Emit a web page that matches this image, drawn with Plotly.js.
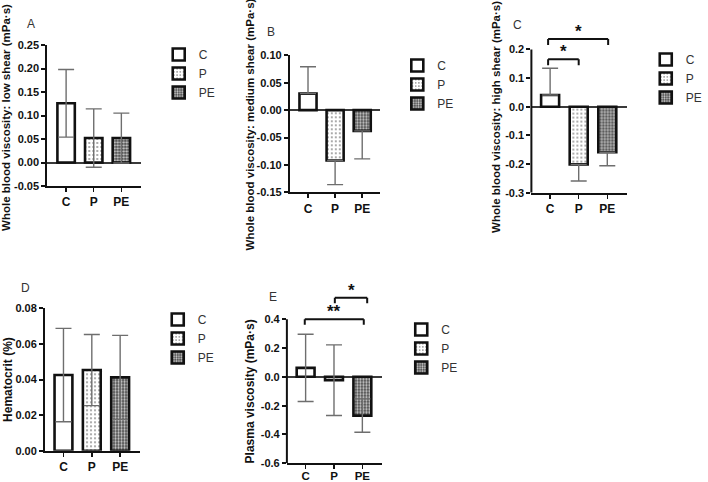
<!DOCTYPE html>
<html>
<head>
<meta charset="utf-8">
<script src="https://cdn.plot.ly/plotly-3.0.1.min.js"></script>
<style>
  html, body { margin: 0; padding: 0; background: #fff; width: 708px; height: 482px; overflow: hidden; }
  #chart { width: 708px; height: 482px; overflow: hidden; }
</style>
</head>
<body>
<div id="chart"></div>
<script>
// Groups
const categories = ['C', 'P', 'PE'];

// Whole blood viscosity, low shear (mPa·s): mean and SD
const lowShearMean = [0.126, 0.052, 0.052];
const lowShearSD   = [0.072, 0.062, 0.053];

// Whole blood viscosity, medium shear (mPa·s)
const medShearMean = [0.030, -0.092, -0.038];
const medShearSD   = [0.049, 0.044, 0.051];

// Whole blood viscosity, high shear (mPa·s)
const highShearMean = [0.041, -0.201, -0.159];
const highShearSD   = [0.093, 0.058, 0.047];

// Hematocrit (%)
const hctMean = [0.0425, 0.0453, 0.0412];
const hctSD   = [0.0262, 0.0200, 0.0236];

// Plasma viscosity (mPa·s)
const plasmaMean = [0.062, -0.023, -0.269];
const plasmaSD   = [0.233, 0.245, 0.116];

// Tick labels
const lowShearTicks  = ['0.25', '0.20', '0.15', '0.10', '0.05', '0.00', '-0.05'];
const medShearTicks  = ['0.10', '0.05', '0.00', '-0.05', '-0.10', '-0.15'];
const highShearTicks = ['0.2', '0.1', '0.0', '-0.1', '-0.2', '-0.3'];
const hctTicks       = ['0.08', '0.06', '0.04', '0.02', '0.00'];
const plasmaTicks    = ['0.4', '0.2', '0.0', '-0.2', '-0.4', '-0.6'];

// Significance brackets: [from, to] in category index, bracket height, label
const highShearSigFrom   = [-0.07, -0.07];
const highShearSigTo     = [1.0, 2.03];
const highShearSigLevel  = [0.166, 0.236];
const highShearSigLabel  = ['*', '*'];

const plasmaSigFrom  = [-0.03, 1.03];
const plasmaSigTo    = [2.05, 2.17];
const plasmaSigLevel = [0.40, 0.549];
const plasmaSigLabel = ['**', '*'];

const FONT = '"Liberation Sans", Arial, Helvetica, sans-serif';

// Fill style for each group
const groupStyle = {
  C:  { color: '#ffffff', pattern: { shape: '' } },
  P:  { color: '#ffffff', pattern: { shape: '.', fgcolor: '#8a8a8a', bgcolor: '#ffffff', size: 4, solidity: 0.18 } },
  PE: { color: '#5a5a5a', pattern: { shape: '.', fgcolor: '#d0d0d0', bgcolor: '#444444', size: 3, solidity: 0.45 } }
};

function errorArrays(mean, sd, outwardOnly) {
  const up = [], down = [];
  mean.forEach((m, i) => {
    if (outwardOnly) {
      up.push(m >= 0 ? sd[i] : 0);
      down.push(m >= 0 ? 0 : sd[i]);
    } else {
      up.push(sd[i]);
      down.push(sd[i]);
    }
  });
  return { up, down };
}

const traces = [];
function addPanel(idx, mean, sd, outwardOnly) {
  const sfx = idx === 1 ? '' : String(idx);
  const err = errorArrays(mean, sd, outwardOnly);
  categories.forEach((cat, i) => {
    const st = groupStyle[cat];
    traces.push({
      type: 'bar',
      x: [cat],
      y: [mean[i]],
      name: cat,
      xaxis: 'x' + sfx,
      yaxis: 'y' + sfx,
      legend: 'legend' + sfx,
      marker: {
        color: st.color,
        pattern: st.pattern,
        line: { color: '#111111', width: 2.6 }
      },
      error_y: {
        type: 'data',
        symmetric: false,
        array: [err.up[i]],
        arrayminus: [err.down[i]],
        color: '#6e6e6e',
        thickness: 1.4,
        width: 8
      },
      hoverinfo: 'skip'
    });
  });
}

addPanel(1, lowShearMean, lowShearSD, false);
addPanel(2, medShearMean, medShearSD, true);
addPanel(3, highShearMean, highShearSD, true);
addPanel(4, hctMean, hctSD, false);
addPanel(5, plasmaMean, plasmaSD, false);

const W = 708, H = 482;
const px = v => v / W;
const py = v => 1 - v / H;

function xAxis(domain, range) {
  return {
    domain: domain,
    type: 'category',
    categoryorder: 'array',
    categoryarray: categories,
    range: range,
    showline: true,
    linecolor: '#111111',
    linewidth: 2,
    ticks: 'outside',
    ticklen: 4,
    tickwidth: 1.5,
    tickcolor: '#111111',
    tickfont: { family: FONT, size: 12, color: '#111111', weight: 'bold' },
    showgrid: false,
    zeroline: false,
    fixedrange: true
  };
}

function yAxis(domain, range, labels, showline, zeroline) {
  return {
    domain: domain,
    range: range,
    tickmode: 'array',
    tickvals: labels.map(Number),
    ticktext: labels,
    ticks: 'outside',
    ticklen: 4,
    tickwidth: 2,
    tickcolor: '#111111',
    tickfont: { family: FONT, size: 11, color: '#111111', weight: 'bold' },
    showline: showline,
    linecolor: '#111111',
    linewidth: 2,
    showgrid: false,
    zeroline: zeroline,
    zerolinecolor: '#3a3a3a',
    zerolinewidth: 2,
    fixedrange: true
  };
}

function legendAt(x, y) {
  return {
    x: x, y: y, xanchor: 'left', yanchor: 'top',
    xref: 'paper', yref: 'paper',
    font: { family: FONT, size: 12, color: '#333333' },
    bgcolor: 'rgba(0,0,0,0)',
    borderwidth: 0,
    tracegroupgap: 0,
    itemclick: false, itemdoubleclick: false
  };
}

const annotations = [];
const shapes = [];

function text(t, x, y, size, bold, angle) {
  annotations.push({
    text: t, xref: 'paper', yref: 'paper', x: x, y: y,
    xanchor: 'center', yanchor: 'middle', showarrow: false,
    textangle: angle || 0,
    font: { family: FONT, size: size, color: bold ? '#111111' : '#333333', weight: bold ? 'bold' : 'normal' }
  });
}

// Panel letters
text('A', px(31), py(24), 12, false);
text('B', px(275), py(32), 12, false);
text('C', px(525), py(25), 12, false);
text('D', px(26), py(288), 12, false);
text('E', px(277), py(297), 12, false);

// Y axis titles
text('Whole blood viscosity: low shear (mPa·s)', px(6), py(117), 11.5, true, -90);
text('Whole blood viscosity: medium shear (mPa·s)', px(254), py(124), 11.5, true, -90);
text('Whole blood viscosity: high shear (mPa·s)', px(503), py(117), 11.5, true, -90);
text('Hematocrit (%)', px(8), py(379), 12, true, -90);
text('Plasma viscosity (mPa·s)', px(254), py(391), 12, true, -90);

// Significance brackets with stars
function brackets(sfx, from, to, level, labels, drop) {
  from.forEach((x0, i) => {
    const x1 = to[i], yTop = level[i], yEnd = level[i] - drop;
    const ref = { xref: 'x' + sfx, yref: 'y' + sfx, type: 'line', line: { color: '#111111', width: 2 } };
    shapes.push(Object.assign({}, ref, { x0: x0, x1: x1, y0: yTop, y1: yTop }));
    shapes.push(Object.assign({}, ref, { x0: x0, x1: x0, y0: yTop, y1: yEnd }));
    shapes.push(Object.assign({}, ref, { x0: x1, x1: x1, y0: yTop, y1: yEnd }));
    annotations.push({
      text: labels[i], xref: 'x' + sfx, yref: 'y' + sfx,
      x: (x0 + x1) / 2, y: yTop, xanchor: 'center', yanchor: 'bottom',
      yshift: -4, showarrow: false,
      font: { family: FONT, size: 17, color: '#111111', weight: 'bold' }
    });
  });
}
brackets('3', highShearSigFrom, highShearSigTo, highShearSigLevel, highShearSigLabel, 0.021);
brackets('5', plasmaSigFrom, plasmaSigTo, plasmaSigLevel, plasmaSigLabel, 0.038);

// Vertical axis lines for panels whose range extends above the top tick
function axisLine(sfx, y0, y1) {
  shapes.push({
    type: 'line', xref: 'x' + sfx + ' domain', yref: 'y' + sfx,
    x0: 0, x1: 0, y0: y0, y1: y1,
    line: { color: '#111111', width: 2 }
  });
}
axisLine('3', -0.3, 0.2);
axisLine('5', -0.6, 0.4);

const xaxis5 = Object.assign(xAxis([px(291), px(387.7)], [-0.66, 2.70]), { anchor: 'y5', ticklabelstandoff: -3 });
xaxis5.tickfont = Object.assign({}, xaxis5.tickfont, { size: 11.5 });

const layout = {
  width: W, height: H,
  margin: { l: 0, r: 0, t: 0, b: 0 },
  paper_bgcolor: '#ffffff',
  plot_bgcolor: 'rgba(0,0,0,0)',
  font: { family: FONT, size: 12, color: '#111111' },
  barmode: 'overlay',
  bargap: 0.37,
  showlegend: true,

  xaxis:  Object.assign(xAxis([px(48), px(143)], [-0.68, 2.71]), { anchor: 'y' }),
  yaxis:  Object.assign(yAxis([py(186), py(45)], [-0.05, 0.25], lowShearTicks, true, true), { anchor: 'x' }),
  xaxis2: Object.assign(xAxis([px(294), px(385)], [-0.67, 2.64]), { anchor: 'y2' }),
  yaxis2: Object.assign(yAxis([py(192.3), py(55.3)], [-0.15, 0.10], medShearTicks, true, true), { anchor: 'x2' }),
  xaxis3: Object.assign(xAxis([px(539), px(636)], [-0.655, 2.69]), { anchor: 'y3' }),
  yaxis3: Object.assign(yAxis([py(192.7), py(23.6)], [-0.3, 0.29], highShearTicks, false, true), { anchor: 'x3' }),
  xaxis4: Object.assign(xAxis([px(45.7), px(141.7)], [-0.65, 2.69]), { anchor: 'y4' }),
  yaxis4: Object.assign(yAxis([py(450.7), py(308.3)], [0, 0.08], hctTicks, true, false), { anchor: 'x4' }),
  xaxis5: xaxis5,
  yaxis5: Object.assign(yAxis([py(463.3), py(281.7)], [-0.6, 0.66], plasmaTicks, false, true), { anchor: 'x5' }),

  legend:  legendAt(px(161), py(40)),
  legend2: legendAt(px(403), py(51)),
  legend3: legendAt(px(655), py(45)),
  legend4: legendAt(px(160), py(305)),
  legend5: legendAt(px(407), py(315)),

  annotations: annotations,
  shapes: shapes
};

Plotly.newPlot('chart', traces, layout, { staticPlot: true, displayModeBar: false });
</script>
</body>
</html>
